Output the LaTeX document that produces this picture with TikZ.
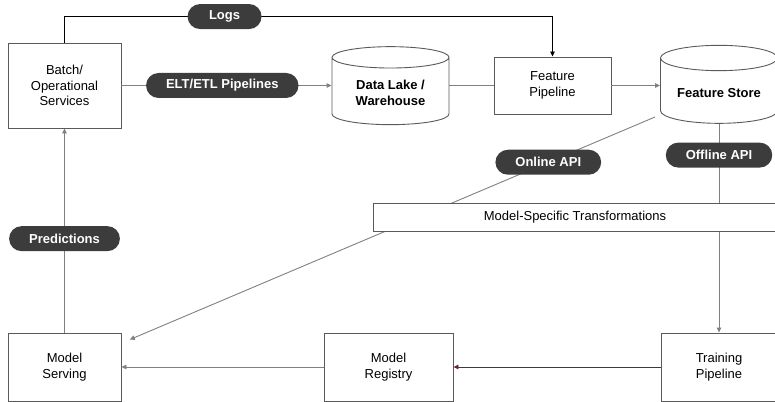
\documentclass[tikz,border=0pt]{standalone}
\usepackage{fontspec}
\setmainfont{Liberation Sans}
\usepackage{xcolor}
\usetikzlibrary{shapes, arrows.meta, positioning}

\definecolor{pilldark}{HTML}{3C3C3C}
\definecolor{linegray}{HTML}{808080}
\definecolor{boxgray}{HTML}{5A5A5A}
\definecolor{regline}{HTML}{6E1E4A}

\tikzset{
  block/.style={draw=boxgray, fill=white, line width=0.9pt, align=center,
    font=\fontsize{13}{15.5}\selectfont},
  datastore/.style={cylinder, shape border rotate=90, aspect=0.28, draw=boxgray,
    fill=white, line width=0.9pt, minimum width=117pt, minimum height=78pt,
    align=center, font=\fontsize{13}{15.5}\selectfont\bfseries},
  pill/.style={fill=pilldark, text=white, rounded corners=12.5pt, minimum height=25pt,
    minimum width=74pt, inner xsep=20pt, font=\fontsize{13}{15}\selectfont\bfseries},
  flow/.style={draw=linegray, line width=0.9pt, -{Triangle[length=5pt,width=4.5pt]}},
  plain/.style={draw=linegray, line width=0.9pt},
}

\begin{document}
\begin{tikzpicture}[x=1pt, y=-1pt]
			\useasboundingbox (0,0) rectangle (775,401);
			\clip (0,0) rectangle (775,401);

			\node[block, minimum width=113pt, minimum height=85pt] (batch) at (64.5,85.5) {Batch/\\Operational\\Services};
			\node[datastore] (lake) at (390.5,93) {Data Lake /\\Warehouse};
			\node[block, minimum width=117pt, minimum height=57pt] (fpipe) at (552.5,85.5) {Feature\\Pipeline};
			\node[datastore] (fstore) at (719,93) {Feature Store};
			\node[block, minimum width=113pt, minimum height=68pt] (serving) at (64.5,367) {Model\\Serving};
			\node[block, minimum width=129pt, minimum height=68pt] (registry) at (388.5,367) {Model\\Registry};
			\node[block, minimum width=116pt, minimum height=68pt] (training) at (719,367) {Training\\Pipeline};
			\coordinate (onlinestart) at (655,117);

			\draw[flow, draw=black] (batch.north) -- ++(0,-26) -| node[pill, pos=0.164] {Logs} (fpipe.north);
			\draw (batch.east) edge[flow] node[pill, pos=0.48] {ELT/ETL Pipelines} (batch.east -| lake.west);
			\draw (fpipe.west -| lake.east) edge[plain] (fpipe.west);
			\draw (fpipe.east) edge[flow] (fpipe.east -| fstore.west);
			\draw (onlinestart) edge[flow, shorten >=9pt] node[pill, pos=0.2] {Online API} (serving);
			\draw (fstore) edge[flow] node[pill, pos=0.15] {Offline API} (training);
			\draw (serving) edge[flow] node[pill, pos=0.46] {Predictions} (batch);
			\draw (registry) edge[flow] (serving);
			\draw (training) edge[flow, draw=regline] (registry);

			\node[block, minimum width=404pt, minimum height=28pt] (mst) at (575,217) {Model-Specific Transformations};
		\end{tikzpicture}
\end{document}
